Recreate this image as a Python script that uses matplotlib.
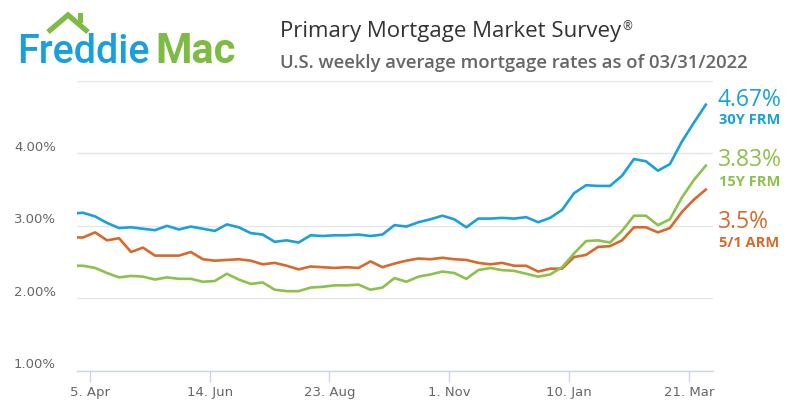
import matplotlib
matplotlib.use("Agg")
import matplotlib.pyplot as plt
import matplotlib.transforms as mtransforms
from matplotlib.lines import Line2D
from matplotlib.patches import Rectangle
import pandas as pd

# weekly survey dates (Thursdays)
dates = pd.date_range("2021-03-25", "2022-03-31", freq="W-THU")

# 30-year fixed
frm30 = [3.17, 3.18, 3.13, 3.04, 2.97, 2.98, 2.96, 2.94, 3.00, 2.95,
         2.99, 2.96, 2.93, 3.02, 2.98, 2.90, 2.88, 2.78, 2.80, 2.77,
         2.87, 2.86, 2.87, 2.87, 2.88, 2.86, 2.88, 3.01, 2.99, 3.05,
         3.09, 3.14, 3.09, 2.98, 3.10, 3.10, 3.11, 3.10, 3.12, 3.05,
         3.11, 3.22, 3.45, 3.56, 3.55, 3.55, 3.69, 3.92, 3.89, 3.76,
         3.85, 4.16, 4.42, 4.67]
# 15-year fixed
frm15 = [2.45, 2.45, 2.42, 2.35, 2.29, 2.31, 2.30, 2.26, 2.29, 2.27,
         2.27, 2.23, 2.24, 2.34, 2.26, 2.20, 2.22, 2.12, 2.10, 2.10,
         2.15, 2.16, 2.18, 2.18, 2.19, 2.12, 2.15, 2.28, 2.23, 2.30,
         2.33, 2.37, 2.35, 2.27, 2.39, 2.42, 2.39, 2.38, 2.34, 2.30,
         2.33, 2.43, 2.62, 2.79, 2.80, 2.77, 2.93, 3.14, 3.14, 3.01,
         3.09, 3.39, 3.63, 3.83]
# 5/1 ARM
arm51 = [2.84, 2.84, 2.91, 2.80, 2.83, 2.64, 2.70, 2.59, 2.59, 2.59,
         2.64, 2.54, 2.52, 2.53, 2.54, 2.52, 2.47, 2.49, 2.45, 2.40,
         2.44, 2.43, 2.42, 2.43, 2.42, 2.51, 2.43, 2.48, 2.52, 2.55,
         2.54, 2.56, 2.54, 2.53, 2.49, 2.47, 2.49, 2.45, 2.45, 2.37,
         2.41, 2.41, 2.57, 2.60, 2.71, 2.72, 2.80, 2.98, 2.98, 2.91,
         2.97, 3.19, 3.36, 3.50]

tick_dates = pd.to_datetime(["2021-04-05", "2021-06-14", "2021-08-23",
                             "2021-11-01", "2022-01-10", "2022-03-21"])
tick_labels = ["5. Apr", "14. Jun", "23. Aug", "1. Nov", "10. Jan", "21. Mar"]
y_ticks = [1, 2, 3, 4, 5]
y_labels = ["1.00%", "2.00%", "3.00%", "4.00%", ""]

series_names = ["30Y FRM", "15Y FRM", "5/1 ARM"]
BLUE = "#1ba1da"
GREEN = "#8cc14c"
ORANGE = "#d9692b"

W, H = 800, 420
fig = plt.figure(figsize=(8, 4.2), dpi=100)
fig.patch.set_facecolor("white")


def fx(x):
    return x / W


def fy(y):
    return 1 - y / H


ax = fig.add_axes([fx(76.7), fy(371), fx(713) - fx(76.7), fy(80.7) - fy(371)])
ax.set_facecolor("white")

ax.plot(dates, arm51, color=ORANGE, lw=1.9, solid_joinstyle="round", zorder=3)
ax.plot(dates, frm15, color=GREEN, lw=1.9, solid_joinstyle="round", zorder=4)
ax.plot(dates, frm30, color=BLUE, lw=1.9, solid_joinstyle="round", zorder=5)

ax.set_xlim(pd.Timestamp("2021-03-28 06:00"), pd.Timestamp("2022-04-04 05:00"))
ax.set_ylim(1, 5)

ax.set_yticks(y_ticks)
ax.set_yticklabels(y_labels)
ax.set_xticks(tick_dates)
ax.set_xticklabels(tick_labels)

for s in ["top", "right", "left"]:
    ax.spines[s].set_visible(False)
ax.spines["bottom"].set_color("#ccd6eb")
ax.spines["bottom"].set_linewidth(1)

ax.grid(axis="y", color="#e6e6e6", lw=1)
ax.set_axisbelow(True)
ax.tick_params(axis="y", length=0, pad=15, labelsize=9.5, labelcolor="#666666")
ax.tick_params(axis="x", length=8, width=1, color="#ccd6eb", pad=3,
               labelsize=9.5, labelcolor="#666666")

shift = mtransforms.ScaledTranslation(0, 0.075, fig.dpi_scale_trans)
for lab in ax.get_yticklabels():
    lab.set_transform(lab.get_transform() + shift)

# end-of-series labels
ends = [(frm30[-1], series_names[0], BLUE, 99.5, 120.5),
        (frm15[-1], series_names[1], GREEN, 160.5, 182),
        (arm51[-1], series_names[2], ORANGE, 222.5, 243)]
for val, name, col, yv, yn in ends:
    fig.text(fx(718), fy(yv), f"{val:g}%", color=col, fontsize=16.5,
             family="Open Sans", weight="medium", va="center", ha="left")
    fig.text(fx(719), fy(yn), name, color=col, fontsize=10.5,
             family="Open Sans", weight="bold", va="center", ha="left")

# header
title = fig.text(fx(280), fy(32), "Primary Mortgage Market Survey", color="#333333",
                 fontsize=16, family="Open Sans", va="center", ha="left")
fig.text(fx(280), fy(63), "U.S. weekly average mortgage rates as of 03/31/2022",
         color="#666666", fontsize=13.3, family="Open Sans", weight="semibold",
         va="center", ha="left")
fig.canvas.draw()
bb = title.get_window_extent()
fig.text(bb.x1 / W + 0.001, bb.y1 / H - 0.012, "\u00ae", color="#333333",
         fontsize=8.5, family="Open Sans", va="center", ha="left")

# logo
LOGO_BLUE = "#1a9fdb"
LOGO_GREEN = "#7dbb42"
fig.text(fx(17), fy(63), "Freddie", color=LOGO_BLUE, fontsize=28.5,
         family="Roboto", weight="medium", va="baseline", ha="left")
fig.text(fx(155), fy(63), "Mac", color=LOGO_GREEN, fontsize=30,
         family="Roboto", weight="bold", va="baseline", ha="left")
roof = Line2D([fx(48), fx(68), fx(88)], [fy(32), fy(15), fy(32)],
              transform=fig.transFigure, color=LOGO_GREEN, lw=3.8,
              solid_joinstyle="miter", solid_capstyle="butt")
fig.add_artist(roof)
fig.add_artist(Rectangle((fx(78), fy(23)), fx(5), fy(13) - fy(23),
                         transform=fig.transFigure, color=LOGO_GREEN, lw=0))

fig.savefig("out.png", dpi=100, facecolor="white")
